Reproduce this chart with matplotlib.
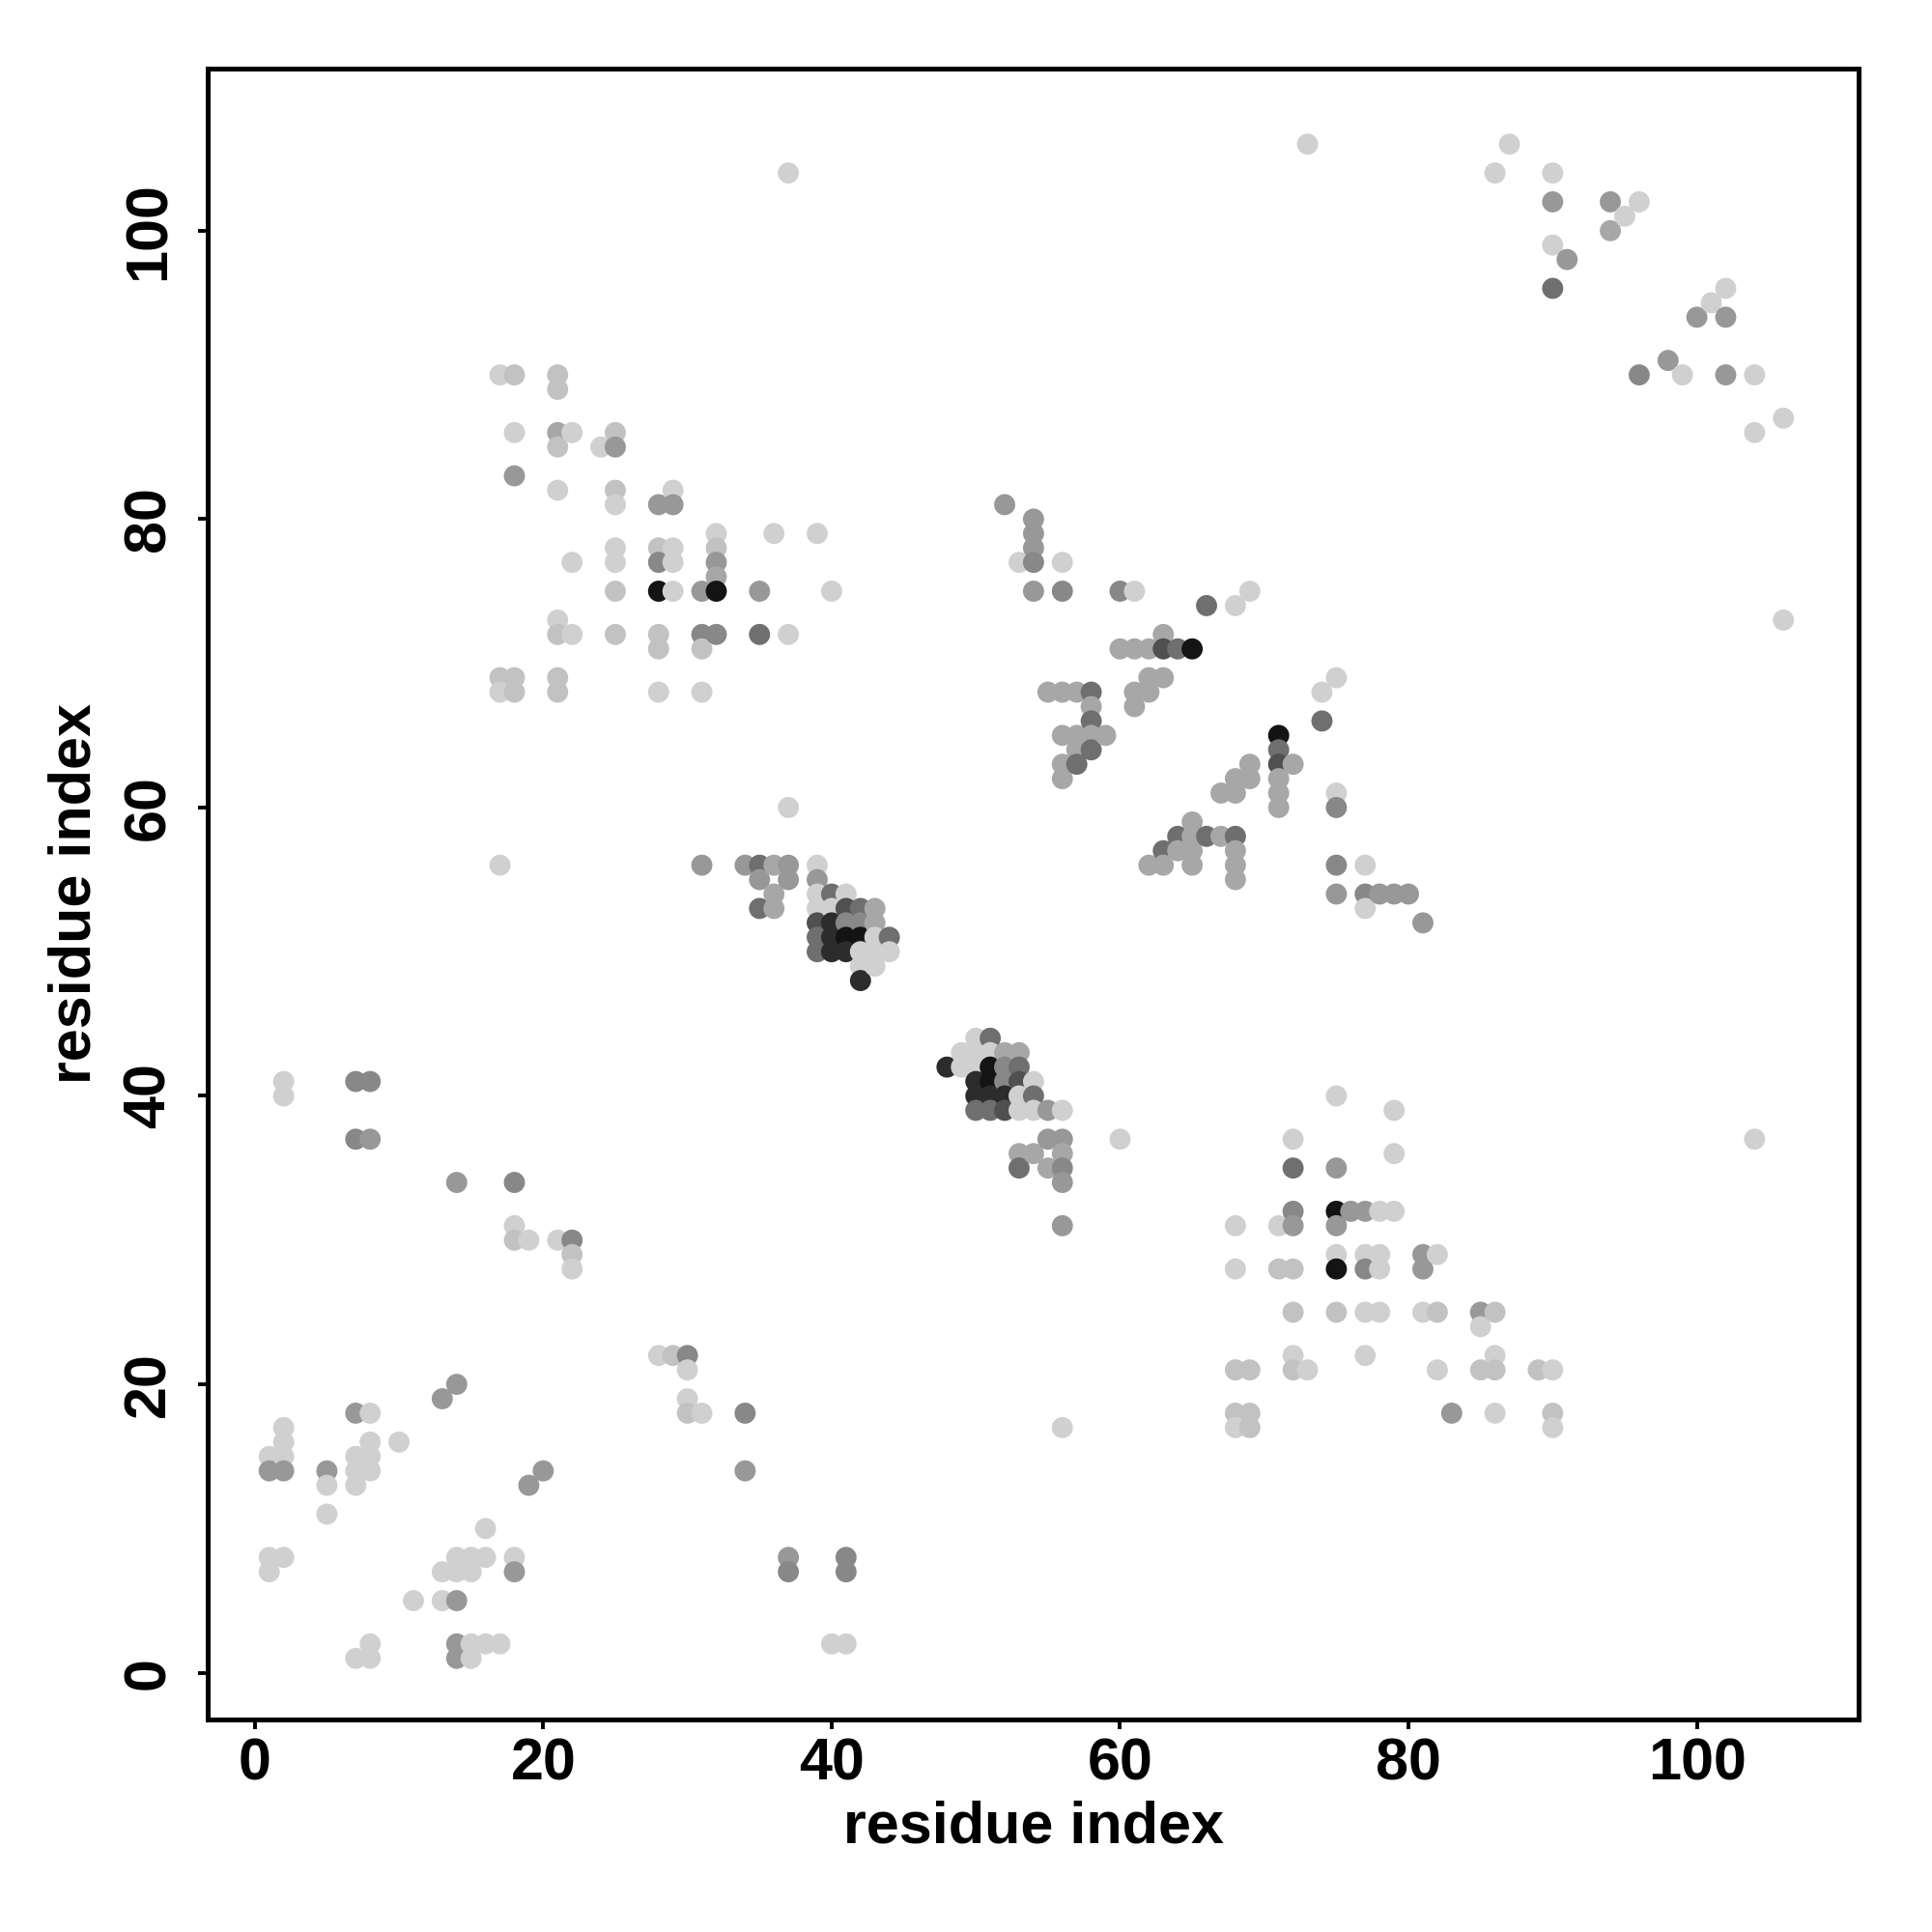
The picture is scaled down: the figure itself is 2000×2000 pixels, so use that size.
import numpy as np
import matplotlib
matplotlib.use("Agg")
import matplotlib.pyplot as plt

# residue pairs (i = x, j = y) and contact strength level (1 = weak/light ... 9 = strong/dark)
res_i = [
    # upper-left block
    17, 18, 21, 21, 18, 21, 22, 21, 24, 25, 25, 18, 21, 25, 25, 29, 28, 29, 32, 32, 32, 32, 32, 25, 25, 28,
    29, 28, 29, 22, 25, 28, 29, 31, 35, 36, 21, 21, 22, 25, 28, 28, 31, 32, 31, 35, 17, 18, 17, 18, 21, 21,
    28, 31, 37, 39, 40, 37,
    # diagonal cluster near 40/52
    17, 31, 34, 35, 35, 35, 37, 36, 37, 37, 36, 36, 39, 39, 40, 41, 39, 39, 40, 41, 42, 43, 39, 40, 41, 42,
    43, 39, 40, 41, 42, 43, 44, 39, 40, 41, 42, 43, 44, 42, 43, 42,
    # diagonal cluster near 51/41
    50, 51, 49, 50, 51, 52, 53, 48, 49, 50, 51, 52, 53, 50, 51, 52, 53, 54, 50, 51, 52, 53, 54, 50, 51, 52,
    53, 54, 55, 56, 55, 56, 53, 54, 56, 53, 55, 56, 60, 72, 72,
    # middle upper block
    52, 54, 54, 54, 53, 54, 56, 54, 56, 60, 61, 66, 68, 69, 73,
    63, 60, 61, 62, 63, 64, 65, 62, 63, 61, 62, 61, 55, 56, 57, 58, 58, 58, 56, 57, 58, 59, 57, 58, 56, 57,
    56, 74, 75, 74, 71, 71, 71, 72, 71, 71, 71, 69, 68, 69, 67, 68, 65, 64, 65, 66, 67, 68, 63, 64, 65, 68,
    62, 63, 65, 68, 68,
    # upper right block
    87, 86, 90, 90, 94, 96, 95, 94, 90, 91, 90, 102, 101, 100, 102, 98, 96, 99, 102, 104, 106, 104, 106,
    # right middle block
    75, 75, 75, 77, 75, 77, 78, 79, 80, 77, 81, 75, 79, 79, 75, 104,
    # lower-left block
    2, 2, 7, 8, 7, 8,
    14, 18, 18, 18, 19, 21, 22, 22, 22, 28, 29, 30, 30, 30, 30, 31, 34, 34, 14, 13, 7, 8, 2, 2, 1, 2, 1, 2,
    5, 5, 5, 8, 7, 8, 7, 8, 7, 10, 20, 19, 16, 1, 2, 1, 14, 15, 16, 13, 14, 15, 18, 18, 11, 13, 14, 8, 7, 8,
    14, 14, 15, 16, 17, 15,
    # lower-middle block
    37, 37, 41, 41, 40, 41, 56, 56, 56, 68, 71, 72, 72, 68, 71, 72, 72, 72, 72, 73, 68, 69, 68, 69, 68, 69,
    # lower-right block
    75, 76, 77, 78, 79, 75, 75, 77, 78, 75, 77, 78, 81, 82, 81, 75, 77, 78, 81, 82, 85, 86, 85, 77, 82, 85,
    86, 86, 89, 90, 83, 86, 90, 90,
]

res_j = [
    90, 90, 90, 89, 86, 86, 86, 85, 85, 86, 85, 83, 82, 82, 81, 82, 81, 81, 79, 78, 77, 76, 75, 78, 77, 78,
    78, 77, 77, 77, 75, 75, 75, 75, 75, 79, 73, 72, 72, 72, 72, 71, 72, 72, 71, 72, 69, 69, 68, 68, 69, 68,
    68, 68, 72, 79, 75, 104,
    56, 56, 56, 56, 55, 53, 60, 56, 56, 55, 54, 53, 56, 55, 54, 54, 54, 53, 53, 53, 53, 53, 52, 52, 52, 52,
    52, 51, 51, 51, 51, 51, 51, 50, 50, 50, 50, 50, 50, 49, 49, 48,
    44, 44, 43, 43, 43, 43, 43, 42, 42, 42, 42, 42, 42, 41, 41, 41, 41, 41, 40, 40, 40, 40, 40, 39, 39, 39,
    39, 39, 39, 39, 37, 37, 36, 36, 36, 35, 35, 35, 37, 37, 35,
    81, 80, 79, 78, 77, 77, 77, 75, 75, 75, 75, 74, 74, 75, 106,
    72, 71, 71, 71, 71, 71, 71, 69, 69, 68, 68, 67, 68, 68, 68, 68, 67, 66, 65, 65, 65, 65, 64, 64, 63, 63,
    62, 68, 69, 66, 65, 64, 63, 63, 62, 61, 60, 63, 62, 62, 61, 61, 59, 58, 58, 58, 58, 58, 57, 57, 57, 57,
    56, 56, 56, 56, 55,
    106, 104, 104, 102, 102, 102, 101, 100, 99, 98, 96, 96, 95, 94, 94, 91, 90, 90, 90, 90, 87, 86, 73,
    61, 60, 56, 56, 54, 54, 54, 54, 54, 53, 52, 40, 39, 36, 35, 37,
    41, 40, 41, 41, 37, 37,
    34, 34, 31, 30, 30, 30, 30, 29, 28, 22, 22, 22, 21, 19, 18, 18, 18, 14, 20, 19, 18, 18, 17, 16, 15, 15,
    14, 14, 14, 13, 11, 16, 15, 15, 14, 14, 13, 16, 14, 13, 10, 8, 8, 7, 8, 8, 8, 7, 7, 7, 8, 7, 5, 5, 5, 2,
    1, 1, 2, 1, 2, 2, 2, 1,
    8, 7, 8, 7, 2, 2, 34, 31, 17, 31, 31, 32, 31, 28, 28, 28, 25, 22, 21, 21, 21, 21, 18, 18, 17, 17,
    32, 32, 32, 32, 32, 31, 29, 29, 29, 28, 28, 28, 29, 29, 28, 25, 25, 25, 25, 25, 25, 25, 24, 22, 21, 21,
    21, 22, 21, 21, 18, 18, 18, 17,
]

level = [
    1, 2, 2, 2, 1, 3, 1, 2, 1, 2, 4, 4, 1, 2, 1, 1, 4, 4, 1, 2, 4, 3, 9, 1, 1, 2,
    1, 5, 1, 1, 2, 9, 1, 4, 4, 1, 1, 2, 1, 2, 2, 2, 5, 5, 2, 6, 2, 2, 1, 2, 2, 2,
    1, 1, 1, 1, 1, 1,
    1, 4, 4, 6, 4, 6, 1, 3, 4, 4, 3, 3, 1, 4, 6, 1, 1, 1, 1, 7, 6, 3, 7, 8, 5, 5,
    3, 6, 8, 9, 9, 1, 6, 6, 8, 8, 1, 1, 1, 1, 1, 8,
    1, 6, 1, 1, 1, 3, 3, 8, 1, 1, 9, 5, 6, 8, 9, 5, 7, 1, 8, 8, 8, 1, 6, 6, 6, 7,
    1, 1, 4, 1, 4, 4, 3, 3, 3, 6, 3, 5, 1, 1, 6,
    4, 4, 4, 4, 1, 5, 1, 4, 5, 5, 1, 6, 1, 1, 1,
    3, 3, 3, 3, 7, 6, 9, 3, 3, 3, 3, 3, 3, 3, 3, 6, 3, 6, 3, 3, 3, 3, 3, 6, 3, 6,
    3, 1, 1, 6, 9, 6, 7, 3, 3, 3, 3, 3, 3, 3, 3, 3, 3, 6, 3, 6, 3, 6, 6, 3, 3, 3,
    3, 3, 3, 3, 3,
    1, 1, 1, 4, 4, 1, 1, 3, 1, 4, 6, 1, 1, 4, 4, 4, 5, 1, 4, 1, 1, 1, 1,
    1, 5, 5, 1, 4, 5, 4, 4, 4, 1, 4, 1, 1, 1, 4, 1,
    1, 1, 5, 5, 5, 4,
    4, 5, 1, 2, 1, 1, 5, 2, 1, 1, 2, 5, 1, 1, 2, 1, 5, 4, 4, 4, 4, 1, 1, 1, 1, 1,
    4, 4, 4, 1, 1, 1, 1, 1, 1, 1, 1, 1, 4, 4, 1, 1, 1, 1, 1, 1, 1, 1, 1, 1, 1, 4, 1, 1, 4, 1,
    1, 1, 4, 4, 1, 1, 1, 1,
    4, 5, 5, 5, 1, 1, 4, 4, 1, 1, 1, 5, 4, 1, 2, 2, 2, 1, 2, 1, 2, 2, 2, 2, 1, 2,
    9, 4, 4, 1, 1, 4, 1, 1, 1, 9, 5, 1, 4, 1, 4, 2, 1, 1, 1, 2, 4, 2, 1, 1, 1, 2,
    2, 1, 2, 1, 4, 1, 2, 1,
]

tick_values = [0, 20, 40, 60, 80, 100]
x_label = "residue index"
y_label = "residue index"

# grey shade for each strength level
grey_of_level = {1: "#d0d0d0", 2: "#c2c2c2", 3: "#a7a7a7", 4: "#989898", 5: "#888888",
                 6: "#6f6f6f", 7: "#505050", 8: "#2c2c2c", 9: "#141414"}

xi = np.array(res_i)
yj = np.array(res_j)
lv = np.array(level)
order = np.lexsort((-yj, xi))
colors = [grey_of_level[v] for v in lv[order]]

plt.rcParams['font.family'] = ['Liberation Sans', 'DejaVu Sans']
plt.rcParams['font.weight'] = 'bold'

fig = plt.figure(figsize=(10, 10), dpi=200)
ax = fig.add_axes([0.1077, 0.110, 0.8545, 0.8545])
ax.scatter(xi[order], yj[order], s=62, c=colors, edgecolors='none', zorder=3)

ax.set_xlim(-3.24, 111.24)
ax.set_ylim(-3.24, 111.24)
ax.set_xticks(tick_values)
ax.set_yticks(tick_values)
ax.set_xticklabels([str(t) for t in tick_values], fontsize=22, fontweight='bold')
ax.set_yticklabels([str(t) for t in tick_values], fontsize=22, fontweight='bold',
                   rotation=90, va='center')
ax.tick_params(axis='both', direction='out', length=3.6, width=1.4, color='black')
ax.tick_params(axis='x', pad=3)
ax.tick_params(axis='y', pad=8)
for sp in ax.spines.values():
    sp.set_linewidth(1.8)
    sp.set_color('black')

ax.set_xlabel(x_label, fontsize=22, fontweight='bold', labelpad=3)
ax.set_ylabel(y_label, fontsize=22, fontweight='bold', labelpad=7)

fig.savefig("out.png", dpi=200, facecolor='white')
